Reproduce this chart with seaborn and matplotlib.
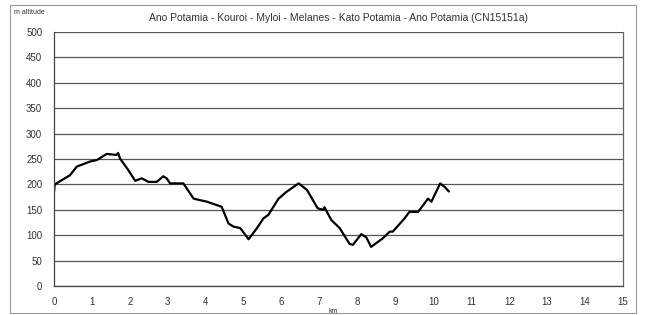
import matplotlib
matplotlib.use("Agg")
import matplotlib.pyplot as plt
import seaborn as sns
import pandas as pd
from matplotlib.patches import Rectangle
from matplotlib.ticker import MultipleLocator

# distance along route (km) and altitude (m)
km = [0.0, 0.02, 0.42, 0.6, 0.95, 1.13, 1.39, 1.65, 1.69, 1.74, 1.96, 2.14,
      2.31, 2.49, 2.71, 2.88, 2.97, 3.06, 3.41, 3.68, 3.85, 4.03, 4.42, 4.6,
      4.73, 4.91, 5.13, 5.35, 5.52, 5.65, 5.92, 6.14, 6.45, 6.67, 6.95, 7.1,
      7.13, 7.31, 7.53, 7.79, 7.88, 8.1, 8.23, 8.36, 8.67, 8.85, 8.93, 9.24,
      9.37, 9.6, 9.86, 9.95, 10.18, 10.3, 10.41]
altitude = [185, 200, 218, 235, 245, 248, 260, 258, 262, 251, 228, 207,
            212, 205, 205, 216, 212, 202, 202, 172, 169, 166, 156, 123,
            117, 114, 92, 114, 133, 140, 172, 186, 202, 189, 153, 150,
            155, 130, 114, 83, 81, 102, 96, 77, 94, 107, 107, 133,
            146, 146, 172, 166, 202, 195, 186]

title = "Ano Potamia - Kouroi - Myloi - Melanes - Kato Potamia - Ano Potamia (CN15151a)"

df = pd.DataFrame({"km": km, "altitude": altitude})

sns.set_style("white")
plt.rcParams["font.family"] = ["Liberation Sans", "DejaVu Sans"]

fig = plt.figure(figsize=(6.46, 3.15), dpi=100)
ax = fig.add_axes([54 / 646, 1 - 286 / 315, (623 - 54) / 646, (286 - 32) / 315])

sns.lineplot(data=df, x="km", y="altitude", ax=ax, color="black", linewidth=1.6, sort=False)

ax.set_xlim(0, 15)
ax.set_ylim(0, 500)
ax.xaxis.set_major_locator(MultipleLocator(1))
ax.xaxis.set_minor_locator(MultipleLocator(0.5))
ax.yaxis.set_major_locator(MultipleLocator(50))
ax.grid(axis="y", color="#555555", linewidth=0.9)
ax.set_axisbelow(True)

ax.spines["top"].set_visible(False)
ax.spines["right"].set_color("#666666")
ax.spines["left"].set_color("#444444")
ax.spines["bottom"].set_color("#444444")
for s in ax.spines.values():
    s.set_linewidth(0.9)

ax.tick_params(axis="both", which="both", direction="inout", colors="#444444",
               labelcolor="#333333", labelsize=7)
ax.tick_params(axis="x", which="major", length=6, pad=5)
ax.tick_params(axis="x", which="minor", length=5)
ax.tick_params(axis="y", which="major", length=5, pad=6)

ax.set_xlabel("km", fontsize=5, color="#333333", labelpad=-2)
ax.xaxis.set_label_coords((333 - 54) / (623 - 54), -0.085)
ax.set_ylabel("")

fig.text(14 / 646, 1 - 12 / 315, "m altitude", fontsize=5, color="#333333", va="center")
fig.text(338 / 646, 1 - 18 / 315, title, fontsize=7.5, color="#333333", ha="center", va="center")

# chart area frame
fig.patches.append(Rectangle((10 / 646, 2 / 315), 626 / 646, 308 / 315, transform=fig.transFigure,
                             fill=False, edgecolor="#999999", linewidth=0.8))

fig.savefig("out.png", dpi=100, facecolor="white")
